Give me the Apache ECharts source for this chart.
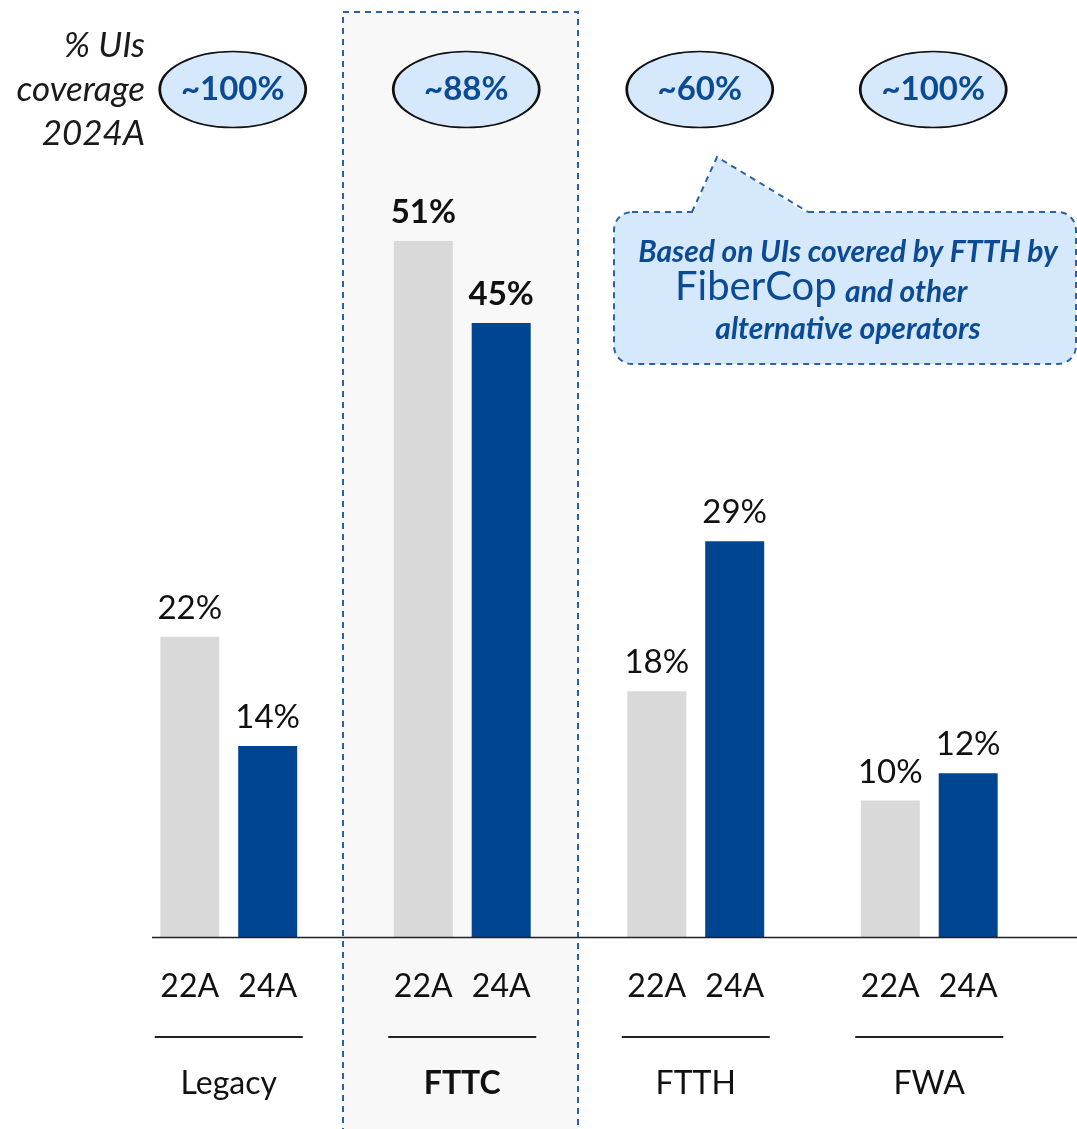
<!DOCTYPE html>
<html>
<head>
<meta charset="utf-8">
<script src="https://cdn.jsdelivr.net/npm/echarts@6/dist/echarts.min.js"></script>
<style>
  html, body { margin: 0; padding: 0; background: #fff; }
  #chart { width: 1077px; height: 1129px; }
</style>
</head>
<body>
<div id="chart"></div>
<script>
const categories = ['Legacy', 'FTTC', 'FTTH', 'FWA'];
const periods = ['22A', '24A'];
const share22A = [22, 51, 18, 10];
const share24A = [14, 45, 29, 12];
const coverage2024 = ['~100%', '~88%', '~60%', '~100%'];
const highlighted = 'FTTC';

const FONT = 'Lato, "Open Sans", sans-serif';
const BLUE = '#004592';
const GREY = '#d9d9d9';
const TEXT_BLUE = '#0b4a94';
const BOX_LINE = '#2a62a8';
const ELLIPSE_Y = 62.1;

const chart = echarts.init(document.getElementById('chart'));

function barData(values) {
  return values.map((v, i) => ({
    value: v,
    label: categories[i] === highlighted ? { fontWeight: 'bold' } : {}
  }));
}

const barLabel = {
  show: true,
  position: 'top',
  distance: 12,
  fontFamily: FONT,
  fontSize: 33,
  color: '#111',
  formatter: p => p.value + '%'
};

function calloutText(text, x, y, extra) {
  return {
    type: 'text',
    z: 12,
    x: x,
    y: y,
    style: Object.assign({
      text: text,
      align: 'center',
      verticalAlign: 'middle',
      fontFamily: FONT,
      fontStyle: 'italic',
      fontWeight: 'bold',
      fontSize: 30,
      fill: TEXT_BLUE
    }, extra || {})
  };
}

chart.setOption({
  animation: false,
  textStyle: { fontFamily: FONT },
  grid: { left: 112, right: 31, top: 9, bottom: 192 },
  xAxis: {
    type: 'category',
    data: categories,
    axisLine: { show: false },
    axisTick: { show: false },
    axisLabel: {
      margin: 20,
      interval: 0,
      formatter: v => `{p|${periods[0]}}{p|${periods[1]}}\n{ln|}\n{${v === highlighted ? 'nb' : 'n'}|${v}}`,
      rich: {
        p: { width: 78, align: 'center', fontSize: 32, lineHeight: 60, color: '#111', fontFamily: FONT },
        ln: { width: 148, height: 2, align: 'center', lineHeight: 40, backgroundColor: '#222' },
        n: { align: 'center', fontSize: 32, lineHeight: 54, color: '#111', fontFamily: FONT },
        nb: { align: 'center', fontSize: 32, lineHeight: 54, color: '#111', fontWeight: 'bold', fontFamily: FONT }
      }
    }
  },
  yAxis: { type: 'value', min: 0, max: 68, show: false, splitLine: { show: false } },
  series: [
    {
      name: periods[0],
      type: 'bar',
      barWidth: 59,
      barGap: '32%',
      itemStyle: { color: GREY },
      label: barLabel,
      data: barData(share22A)
    },
    {
      name: periods[1],
      type: 'bar',
      barWidth: 59,
      barGap: '32%',
      itemStyle: { color: BLUE },
      label: barLabel,
      data: barData(share24A)
    },
    {
      name: 'coverage',
      type: 'scatter',
      symbol: 'circle',
      symbolSize: [146, 76],
      symbolOffset: [4, 0],
      itemStyle: { color: '#d6e8fc', borderColor: '#111', borderWidth: 2, opacity: 1 },
      label: {
        show: true,
        position: 'inside',
        fontFamily: FONT,
        fontSize: 33,
        fontWeight: 'bold',
        color: TEXT_BLUE,
        formatter: p => coverage2024[p.dataIndex]
      },
      data: categories.map(() => ELLIPSE_Y),
      z: 5
    }
  ],
  graphic: [
    {
      type: 'rect',
      z: 0,
      shape: { x: 343, y: 12, width: 235, height: 1140 },
      style: { fill: '#f8f8f8', stroke: BOX_LINE, lineWidth: 2, lineDash: [6, 5] }
    },
    {
      type: 'line',
      z: 10,
      shape: { x1: 152, y1: 937.5, x2: 1077, y2: 937.5 },
      style: { stroke: '#222', lineWidth: 1.5 }
    },
    {
      type: 'text',
      z: 10,
      x: 145,
      y: 90,
      style: {
        text: '% UIs\ncoverage\n2024A',
        align: 'right',
        verticalAlign: 'middle',
        fontFamily: FONT,
        fontStyle: 'italic',
        fontSize: 35,
        lineHeight: 44,
        fill: '#1a1a1a'
      }
    },
    // callout bubble
    {
      type: 'rect',
      z: 10,
      shape: { x: 614, y: 212, width: 462, height: 152, r: 18 },
      style: { fill: '#d6e8fc', stroke: BOX_LINE, lineWidth: 2, lineDash: [6, 5] }
    },
    {
      type: 'polygon',
      z: 11,
      shape: { points: [[693, 214], [717, 157], [807, 214]] },
      style: { fill: '#d6e8fc' }
    },
    {
      type: 'polyline',
      z: 11,
      shape: { points: [[692, 212], [717, 157], [808, 212]] },
      style: { stroke: BOX_LINE, lineWidth: 2, lineDash: [6, 5], fill: null }
    },
    calloutText('Based on UIs covered by FTTH by', 848, 252),
    calloutText('FiberCop', 675, 287, { align: 'left', fontStyle: 'normal', fontWeight: 'normal', fontSize: 40 }),
    calloutText('and other', 845, 292, { align: 'left' }),
    calloutText('alternative operators', 848, 329)
  ]
});
</script>
</body>
</html>
